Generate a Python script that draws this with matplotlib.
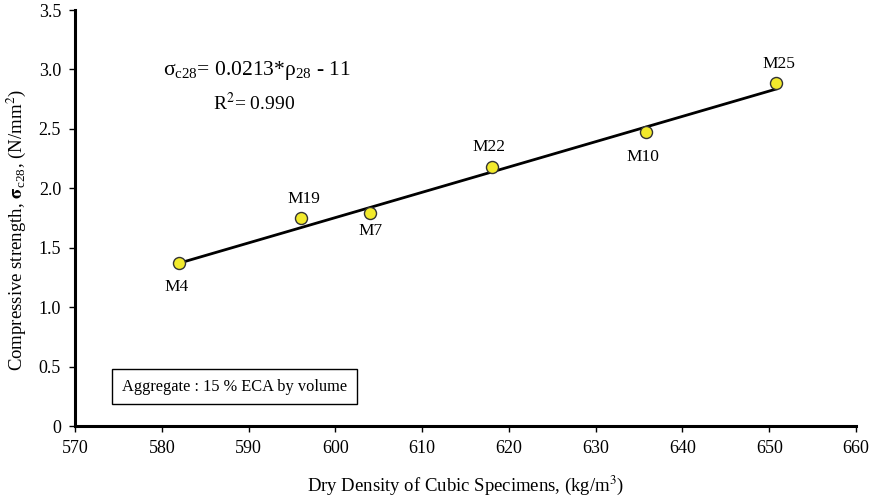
import matplotlib.pyplot as plt
import numpy as np

# mixes: dry density (kg/m3) vs 28-day compressive strength (N/mm2)
mix_names = ['M4', 'M19', 'M7', 'M22', 'M10', 'M25']
density = [582, 596, 604, 618, 635.8, 650.8]
strength = [1.37, 1.75, 1.79, 2.18, 2.47, 2.89]

# trend line
trend_x = [582, 650.8]
trend_y = [1.37, 2.835]

# label offsets in points (dx, dy)
label_offsets = [(-2, -17), (2, 14), (0, -13), (-2, 14), (-2, -18), (2, 13)]

xticks = [570, 580, 590, 600, 610, 620, 630, 640, 650, 660]
yticks = [0, 0.5, 1.0, 1.5, 2.0, 2.5, 3.0, 3.5]
ytick_labels = ['0', '0.5', '1.0', '1.5', '2.0', '2.5', '3.0', '3.5']

plt.rcParams['font.family'] = ['Liberation Serif', 'DejaVu Serif']
plt.rcParams['mathtext.fontset'] = 'stix'

fig = plt.figure(figsize=(8.74, 4.98), dpi=100)
ax = fig.add_axes([75 / 874, 1 - 426 / 498, (856 - 75) / 874, (426 - 10) / 498])

ax.plot(trend_x, trend_y, color='black', lw=2, zorder=2)
ax.scatter(density, strength, s=75, color='#f2ea2c', edgecolor='#333333',
           linewidth=1, zorder=3)
for name, x, y, (dx, dy) in zip(mix_names, density, strength, label_offsets):
    ax.annotate(name, (x, y), xytext=(dx, dy), textcoords='offset points',
                ha='center', va='center', fontsize=12.5)

ax.set_xlim(570, 660)
ax.set_ylim(0, 3.5)
ax.set_xticks(xticks)
ax.set_yticks(yticks)
ax.set_yticklabels(ytick_labels)
ax.tick_params(labelsize=13, length=4, width=1, direction='out', pad=6)
for side in ['top', 'right']:
    ax.spines[side].set_visible(False)
for side in ['left', 'bottom']:
    ax.spines[side].set_linewidth(2.2)

ax.text(591, 2.99, r'$\mathregular{\sigma_{c28}}$= 0.0213*$\mathregular{\rho_{28}}$ - 11',
        fontsize=15.5, ha='center', va='center')
ax.text(590.6, 2.72, r'R$^2$= 0.990', fontsize=14, ha='center', va='center')

ax.text(575.4, 0.332, 'Aggregate : 15 % ECA by volume', fontsize=11.8,
        va='center', ha='left',
        bbox=dict(boxstyle='square,pad=0.6', fc='white', ec='black', lw=1))

ax.set_xlabel('Dry Density of Cubic Specimens, (kg/m$^3$)', fontsize=13.5, labelpad=12)
ax.set_ylabel(r'Compressive strength, $\mathbf{\sigma}_{\mathregular{c28}}$, (N/mm$^2$)',
              fontsize=13.5)
ax.yaxis.set_label_coords(-0.06, 0.471)

fig.savefig('out.png', dpi=100)
